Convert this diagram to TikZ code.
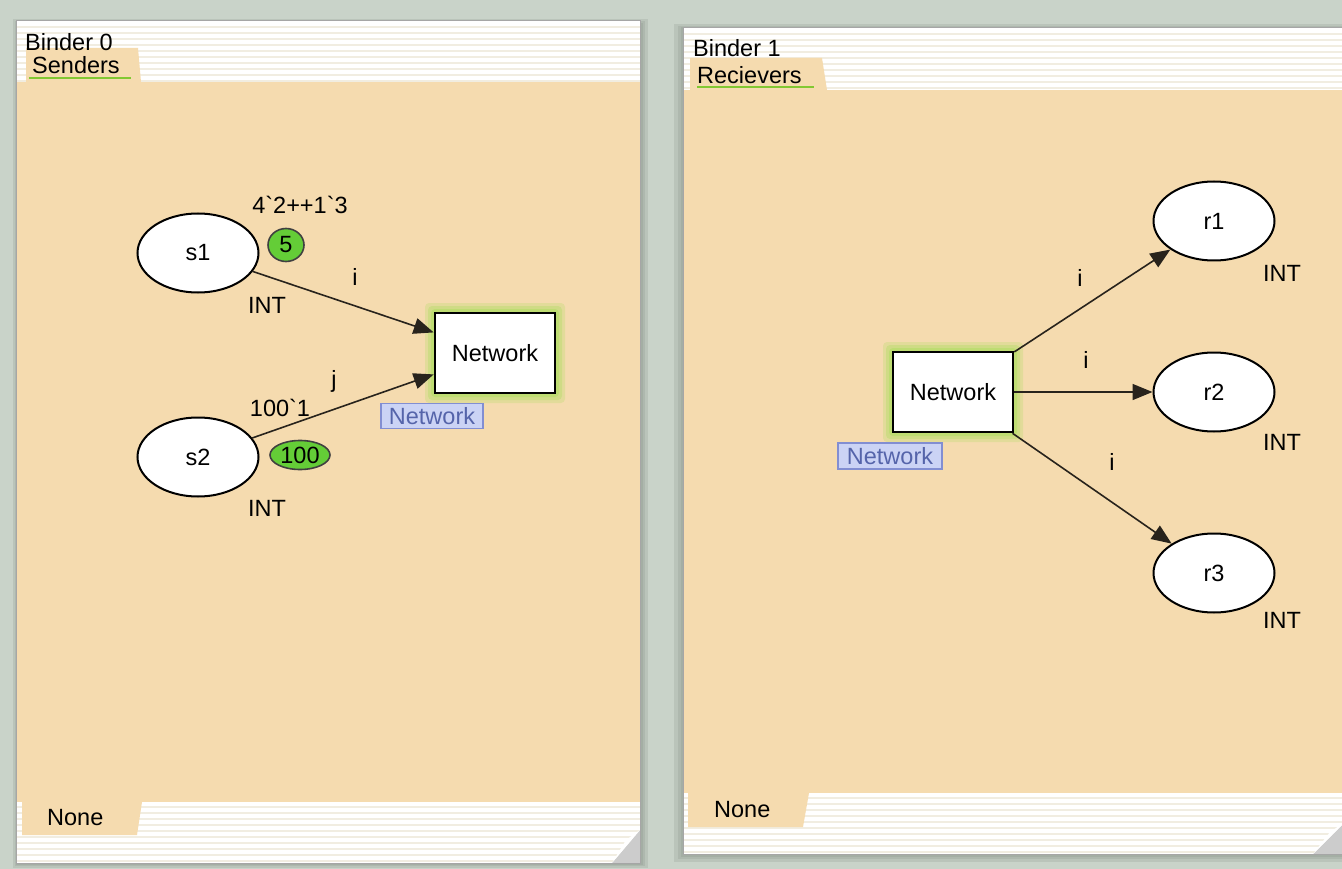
\documentclass[tikz,border=0pt]{standalone}
\usepackage{fontspec}
\setmainfont{Liberation Sans}
\newfontfamily\rawfont{Liberation Sans}
\usetikzlibrary{arrows.meta,shapes.geometric}
\definecolor{bg}{RGB}{201,211,201}
\definecolor{peach}{RGB}{245,219,175}
\definecolor{stripe}{RGB}{241,237,225}
\definecolor{tokgreen}{RGB}{100,205,55}
\definecolor{glow}{RGB}{160,222,80}
\definecolor{lblfill}{RGB}{203,211,245}
\definecolor{lbldraw}{RGB}{130,142,210}
\definecolor{lbltext}{RGB}{85,100,170}
\definecolor{arccol}{RGB}{40,35,28}
\definecolor{uline}{RGB}{130,200,50}
\definecolor{shade1}{RGB}{120,130,120}
\begin{document}
\begin{tikzpicture}[x=1pt,y=-1pt,
  font=\fontsize{23.5}{26}\selectfont,
  place/.style={ellipse, draw=black, line width=2pt, fill=white, minimum width=121pt, minimum height=79pt, inner sep=0pt},
  trans/.style={rectangle, draw=black, line width=2.6pt, fill=white, minimum width=120pt, minimum height=80pt, inner sep=0pt},
  tok/.style={ellipse, draw=black!75, line width=1.6pt, fill=tokgreen, inner sep=0pt},
  lbl/.style={rectangle, draw=lbldraw, fill=lblfill, line width=1.6pt, text=lbltext, inner sep=0pt, minimum width=102pt, minimum height=25pt},
  txt/.style={inner sep=0pt},
  rawtxt/.style={inner sep=0pt, font=\rawfont\fontsize{23.5}{26}\selectfont},
  arcline/.style={draw=arccol, line width=1.6pt, -{Triangle[length=20pt,width=16pt]}},
  panelshadow/.style={fill=shade1, opacity=0.18},
  tabfill/.style={fill=peach},
  stripeline/.style={draw=stripe, line width=2.6pt},
  ulinestyle/.style={draw=uline, line width=2.6pt}
]
\useasboundingbox (0,0) rectangle (1342,869);
\fill[bg] (0,0) rectangle (1342,869);

% ---------- left panel ----------
\fill[panelshadow] (13,19) rectangle (648,868);
\fill[panelshadow] (15,21) rectangle (645,866);
\fill[panelshadow] (16,23) rectangle (643,865);
\fill[white] (16,21) rectangle (640,863);
\foreach \yy in {27,33,...,81} \draw[stripeline] (17,\yy) -- (640,\yy);
\foreach \yy in {807,813,...,861} \draw[stripeline] (17,\yy) -- (640,\yy);
\fill[peach] (16,82) rectangle (640,802);
\fill[tabfill] (26,48) -- (138,48) -- (141,82) -- (26,82) -- cycle;
\fill[tabfill] (22,802) -- (142,802) -- (137,835) -- (22,835) -- cycle;
\fill[gray!40] (612,863) -- (640,863) -- (640,830) -- cycle;
\fill[white] (612,863) -- (640,830) -- (626,840) -- cycle;
\draw[gray!70, line width=1pt] (16,21) rectangle (640,863);
\draw[ulinestyle] (29,78) -- (131,78);
\node[txt, anchor=west] (b0) at (25,42) {Binder 0};
\node[txt, anchor=west] (sendtab) at (32,65) {Senders};
\node[txt, anchor=west] (none0) at (47,818) {None};

% glow left transition
\foreach \e/\o in {10/0.22,7/0.28,4/0.35}
  \fill[glow, opacity=\o, rounded corners=4pt] (435-\e,313-\e) rectangle (555+\e,393+\e);

\node[place] (s1) at (198,253) {s1};
\node[place] (s2) at (198,457) {s2};
\node[trans] (netL) at (495,353) {Network};
\node[lbl] (netLlbl) at (432,416) {Network};
\node[txt] (s1type) at (267,305) {INT};
\node[txt] (s2type) at (267,508) {INT};
\node[rawtxt] (s1init) at (300,205) {4`2++1`3};
\node[rawtxt] (s2init) at (280,408) {100`1};
\node[tok, minimum width=36pt, minimum height=33pt] (tok1) at (286,245) {5};
\node[tok, minimum width=60pt, minimum height=29pt] (tok2) at (300,455) {100};
\draw[arcline] (s1) -- (netL);
\draw[arcline] (s2) -- (netL);
\node[txt] (li) at (355,277) {i};
\node[txt] (lj) at (334,381) {j};

% ---------- right panel ----------
\fill[panelshadow] (674,24) rectangle (1360,862);
\fill[panelshadow] (678,26) rectangle (1360,859);
\fill[panelshadow] (681,27) rectangle (1360,857);
\fill[white] (683,28) rectangle (1360,854);
\foreach \yy in {34,40,...,88} \draw[stripeline] (683,\yy) -- (1360,\yy);
\foreach \yy in {798,804,...,852} \draw[stripeline] (683,\yy) -- (1360,\yy);
\fill[peach] (683,90) rectangle (1360,793);
\fill[tabfill] (690,58) -- (822,58) -- (827,90) -- (690,90) -- cycle;
\fill[tabfill] (688,793) -- (809,793) -- (803,827) -- (688,827) -- cycle;
\fill[gray!40] (1313,854) -- (1345,854) -- (1345,822) -- cycle;
\fill[white] (1313,854) -- (1345,822) -- (1330,832) -- cycle;
\draw[gray!70, line width=1pt] (683,28) -- (683,854) -- (1360,854);
\draw[gray!70, line width=1pt] (683,28) -- (1360,28);
\draw[ulinestyle] (697,87) -- (814,87);
\node[txt, anchor=west] (b1) at (693,48) {Binder 1};
\node[txt, anchor=west] (rectab) at (697,75) {Recievers};
\node[txt, anchor=west] (none1) at (714,810) {None};

\foreach \e/\o in {10/0.22,7/0.28,4/0.35}
  \fill[glow, opacity=\o, rounded corners=4pt] (893-\e,352-\e) rectangle (1013+\e,432+\e);

\node[trans] (netR) at (953,392) {Network};
\node[lbl, minimum width=104pt, minimum height=26pt] (netRlbl) at (890,456) {Network};
\node[place] (r1) at (1214,221) {r1};
\node[place] (r2) at (1214,392) {r2};
\node[place] (r3) at (1214,573) {r3};
\node[txt] (r1type) at (1282,273) {INT};
\node[txt] (r2type) at (1282,442) {INT};
\node[txt] (r3type) at (1282,620) {INT};
\draw[arcline] (netR) -- (r1);
\draw[arcline] (netR) -- (r2);
\draw[arcline] (netR) -- (r3);
\node[txt] (ri1) at (1080,278) {i};
\node[txt] (ri2) at (1086,360) {i};
\node[txt] (ri3) at (1112,462) {i};
\end{tikzpicture}
\end{document}
